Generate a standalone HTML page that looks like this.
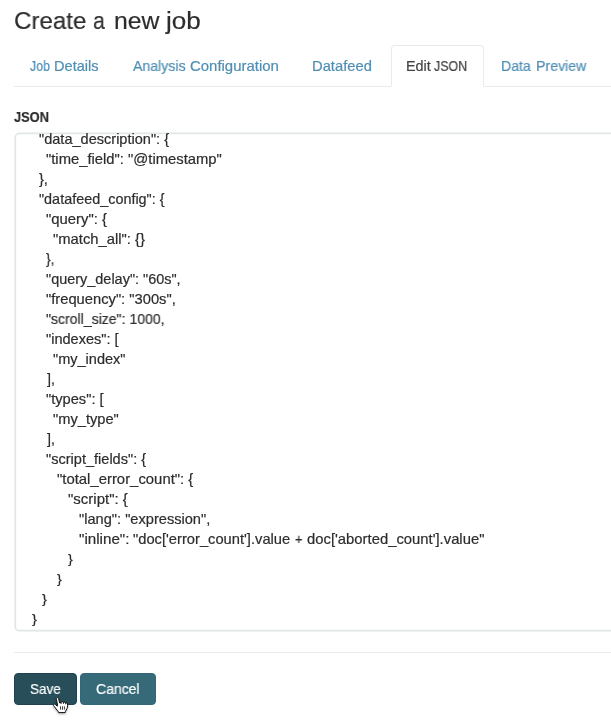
<!DOCTYPE html>
<html><head><meta charset="utf-8">
<style>
html,body{margin:0;padding:0;background:#fff;}
body{width:611px;height:726px;overflow:hidden;position:relative;font-family:"Liberation Sans",sans-serif;color:#2d2d2d;}
.t{-webkit-text-stroke:0.2px currentColor;will-change:transform;position:absolute;white-space:pre;line-height:20px;transform-origin:0 0;display:block;}
.tabline{position:absolute;left:14px;top:86px;width:597px;height:1px;background:#e9ecee;}
.active{position:absolute;left:391px;top:45px;width:91px;height:40px;border:1px solid #e9ecee;border-bottom:1px solid #fff;border-radius:4px 4px 0 0;background:#fff;}
.hr{position:absolute;left:14px;top:652px;width:597px;height:1px;background:#e9ecee;}
.btn{position:absolute;top:673px;height:30px;border-radius:4px;border:1px solid;}
</style></head><body>
<div class="tabline"></div>
<div class="active"></div>
<svg style="position:absolute;left:0;top:0" width="611" height="726"><rect x="15.3" y="133.4" width="620" height="497.3" rx="4" ry="4" fill="none" stroke="#e1e6e8" stroke-width="1.7"/></svg>
<div class="hr"></div>
<div class="btn" style="left:14px;width:61px;background:#274e59;border-color:#1f4450;"></div>
<div class="btn" style="left:80px;width:74px;background:#366a79;border-color:#33687a;"></div>
<span class="t" style="left:14.23px;top:11.00px;font-size:24.8px;font-weight:normal;color:#2d2d2d;transform:scaleX(0.9712);transform-origin:0 10.9px">Create</span>
<span class="t" style="left:93.44px;top:11.00px;font-size:24.8px;font-weight:normal;color:#2d2d2d;transform:scaleX(0.8615);transform-origin:0 10.9px">a</span>
<span class="t" style="left:113.81px;top:11.00px;font-size:24.8px;font-weight:normal;color:#2d2d2d;transform:scaleX(0.9911);transform-origin:0 10.9px">new</span>
<span class="t" style="left:165.85px;top:11.00px;font-size:24.8px;font-weight:normal;color:#2d2d2d;transform:scaleX(1.0485);transform-origin:0 10.9px">job</span>
<span class="t" style="left:29.60px;top:56.00px;font-size:14.4px;font-weight:normal;color:#4f8eb3;transform:scaleX(0.8565);transform-origin:0 10.9px">Job</span>
<span class="t" style="left:54.39px;top:56.00px;font-size:14.4px;font-weight:normal;color:#4f8eb3;transform:scaleX(1.0140);transform-origin:0 10.9px">Details</span>
<span class="t" style="left:132.80px;top:56.00px;font-size:14.4px;font-weight:normal;color:#4f8eb3;transform:scaleX(0.9811);transform-origin:0 10.9px">Analysis</span>
<span class="t" style="left:189.80px;top:56.00px;font-size:14.4px;font-weight:normal;color:#4f8eb3;transform:scaleX(1.0376);transform-origin:0 10.9px">Configuration</span>
<span class="t" style="left:312.38px;top:56.00px;font-size:14.4px;font-weight:normal;color:#4f8eb3;transform:scaleX(1.0246);transform-origin:0 10.9px">Datafeed</span>
<span class="t" style="left:501.23px;top:56.00px;font-size:14.4px;font-weight:normal;color:#4f8eb3;transform:scaleX(0.9733);transform-origin:0 10.9px">Data</span>
<span class="t" style="left:536.02px;top:56.00px;font-size:14.4px;font-weight:normal;color:#4f8eb3;transform:scaleX(0.9840);transform-origin:0 10.9px">Preview</span>
<span class="t" style="left:406.11px;top:56.00px;font-size:14.4px;font-weight:normal;color:#444;transform:scaleX(0.9875);transform-origin:0 10.9px">Edit</span>
<span class="t" style="left:433.80px;top:56.00px;font-size:14.4px;font-weight:normal;color:#444;transform:scaleX(0.8632);transform-origin:0 10.9px">JSON</span>
<span class="t" style="left:13.60px;top:107.00px;font-size:14.4px;font-weight:bold;color:#2d2d2d;transform:scaleX(0.8923);transform-origin:0 10.9px">JSON</span>
<span class="t" style="left:38.70px;top:129.00px;font-size:14.4px;font-weight:normal;color:#2d2d2d;transform:scaleX(1.0109);transform-origin:0 10.9px">&quot;data_description&quot;: {</span>
<span class="t" style="left:45.90px;top:149.00px;font-size:14.4px;font-weight:normal;color:#2d2d2d;transform:scaleX(1.0281);transform-origin:0 10.9px">&quot;time_field&quot;: &quot;@timestamp&quot;</span>
<span class="t" style="left:38.90px;top:169.00px;font-size:14.4px;font-weight:normal;color:#2d2d2d;transform:scaleX(1.0125);transform-origin:0 10.9px">},</span>
<span class="t" style="left:38.70px;top:189.00px;font-size:14.4px;font-weight:normal;color:#2d2d2d;transform:scaleX(1.0008);transform-origin:0 10.9px">&quot;datafeed_config&quot;: {</span>
<span class="t" style="left:45.90px;top:209.00px;font-size:14.4px;font-weight:normal;color:#2d2d2d;transform:scaleX(1.0322);transform-origin:0 10.9px">&quot;query&quot;: {</span>
<span class="t" style="left:52.80px;top:229.00px;font-size:14.4px;font-weight:normal;color:#2d2d2d;transform:scaleX(1.0270);transform-origin:0 10.9px">&quot;match_all&quot;: {}</span>
<span class="t" style="left:45.90px;top:249.00px;font-size:14.4px;font-weight:normal;color:#2d2d2d;transform:scaleX(0.9500);transform-origin:0 10.9px">},</span>
<span class="t" style="left:45.90px;top:269.00px;font-size:14.4px;font-weight:normal;color:#2d2d2d;transform:scaleX(1.0045);transform-origin:0 10.9px">&quot;query_delay&quot;: &quot;60s&quot;,</span>
<span class="t" style="left:45.90px;top:289.00px;font-size:14.4px;font-weight:normal;color:#2d2d2d;transform:scaleX(1.0230);transform-origin:0 10.9px">&quot;frequency&quot;: &quot;300s&quot;,</span>
<span class="t" style="left:45.90px;top:309.00px;font-size:14.4px;font-weight:normal;color:#2d2d2d;transform:scaleX(0.9760);transform-origin:0 10.9px">&quot;scroll_size&quot;: 1000,</span>
<span class="t" style="left:45.90px;top:329.00px;font-size:14.4px;font-weight:normal;color:#2d2d2d;transform:scaleX(1.0111);transform-origin:0 10.9px">&quot;indexes&quot;: [</span>
<span class="t" style="left:52.80px;top:349.00px;font-size:14.4px;font-weight:normal;color:#2d2d2d;transform:scaleX(1.0097);transform-origin:0 10.9px">&quot;my_index&quot;</span>
<span class="t" style="left:46.60px;top:369.00px;font-size:14.4px;font-weight:normal;color:#2d2d2d;transform:scaleX(0.9857);transform-origin:0 10.9px">],</span>
<span class="t" style="left:45.90px;top:389.00px;font-size:14.4px;font-weight:normal;color:#2d2d2d;transform:scaleX(1.0175);transform-origin:0 10.9px">&quot;types&quot;: [</span>
<span class="t" style="left:52.80px;top:409.00px;font-size:14.4px;font-weight:normal;color:#2d2d2d;transform:scaleX(1.0188);transform-origin:0 10.9px">&quot;my_type&quot;</span>
<span class="t" style="left:46.60px;top:429.00px;font-size:14.4px;font-weight:normal;color:#2d2d2d;transform:scaleX(0.9857);transform-origin:0 10.9px">],</span>
<span class="t" style="left:45.90px;top:449.00px;font-size:14.4px;font-weight:normal;color:#2d2d2d;transform:scaleX(1.0111);transform-origin:0 10.9px">&quot;script_fields&quot;: {</span>
<span class="t" style="left:57.10px;top:469.00px;font-size:14.4px;font-weight:normal;color:#2d2d2d;transform:scaleX(1.0341);transform-origin:0 10.9px">&quot;total_error_count&quot;: {</span>
<span class="t" style="left:67.90px;top:489.00px;font-size:14.4px;font-weight:normal;color:#2d2d2d;transform:scaleX(1.0421);transform-origin:0 10.9px">&quot;script&quot;: {</span>
<span class="t" style="left:78.70px;top:509.00px;font-size:14.4px;font-weight:normal;color:#2d2d2d;transform:scaleX(1.0156);transform-origin:0 10.9px">&quot;lang&quot;: &quot;expression&quot;,</span>
<span class="t" style="left:78.90px;top:529.00px;font-size:14.4px;font-weight:normal;color:#2d2d2d;transform:scaleX(1.0553);transform-origin:0 10.9px">&quot;inline&quot;:</span>
<span class="t" style="left:133.00px;top:529.00px;font-size:14.4px;font-weight:normal;color:#2d2d2d;transform:scaleX(1.0222);transform-origin:0 10.9px">&quot;doc[&#x27;error_count&#x27;].value</span>
<span class="t" style="left:295.20px;top:529.00px;font-size:14.4px;font-weight:normal;color:#2d2d2d;transform:scaleX(0.9000);transform-origin:0 10.9px">+</span>
<span class="t" style="left:307.00px;top:529.00px;font-size:14.4px;font-weight:normal;color:#2d2d2d;transform:scaleX(1.0302);transform-origin:0 10.9px">doc[&#x27;aborted_count&#x27;].value&quot;</span>
<span class="t" style="left:67.90px;top:549.00px;font-size:14.4px;font-weight:normal;color:#2d2d2d;transform:scale(1.0000,0.85);transform-origin:0 10.9px">}</span>
<span class="t" style="left:57.10px;top:569.00px;font-size:14.4px;font-weight:normal;color:#2d2d2d;transform:scale(1.0000,0.85);transform-origin:0 10.9px">}</span>
<span class="t" style="left:42.30px;top:589.00px;font-size:14.4px;font-weight:normal;color:#2d2d2d;transform:scale(1.0200,0.85);transform-origin:0 10.9px">}</span>
<span class="t" style="left:31.50px;top:609.00px;font-size:14.4px;font-weight:normal;color:#2d2d2d;transform:scale(1.0200,0.85);transform-origin:0 10.9px">}</span>
<span class="t" style="left:29.66px;top:679.00px;font-size:14.4px;font-weight:normal;color:#fff;transform:scaleX(0.9419);transform-origin:0 10.9px">Save</span>
<span class="t" style="left:96.30px;top:679.00px;font-size:14.4px;font-weight:normal;color:#fff;transform:scaleX(0.9727);transform-origin:0 10.9px">Cancel</span>
<svg style="position:absolute;left:48px;top:692px;filter:drop-shadow(0 1px 1px rgba(0,0,0,0.35));" width="26" height="26" viewBox="0 0 26 26"><path d="M9.4 5.6 C8.6 5.6 8.2 6.3 8.4 7.2 L9.6 13.2 L9.3 14.2 L7.2 12.4 C6.5 11.8 5.4 12.0 5.4 12.9 C5.4 13.5 5.8 14.0 6.3 14.6 L10.3 19.6 L10.6 20.6 L17.2 20.6 L17.4 19.4 C18.5 17.5 19.6 15.8 19.6 13.8 L19.6 11.9 C19.6 10.9 18.3 10.6 17.8 11.4 L17.6 11.0 C17.4 9.9 15.8 9.8 15.5 10.8 L15.3 10.5 C15 9.4 13.3 9.4 13.0 10.5 L12.8 11.0 L11.6 10.9 L10.6 6.6 C10.4 5.9 10.0 5.6 9.4 5.6 Z" fill="#fff" stroke="#111" stroke-width="1" stroke-linejoin="round"/><path d="M12.55 14.3V17.7M14.5 14.3V17.7M16.4 14.3V17.7M13.2 10.4V11.9M15.45 10.6V12.0M17.7 11.0V12.3" stroke="#111" stroke-width="0.8" fill="none"/></svg>
</body></html>
